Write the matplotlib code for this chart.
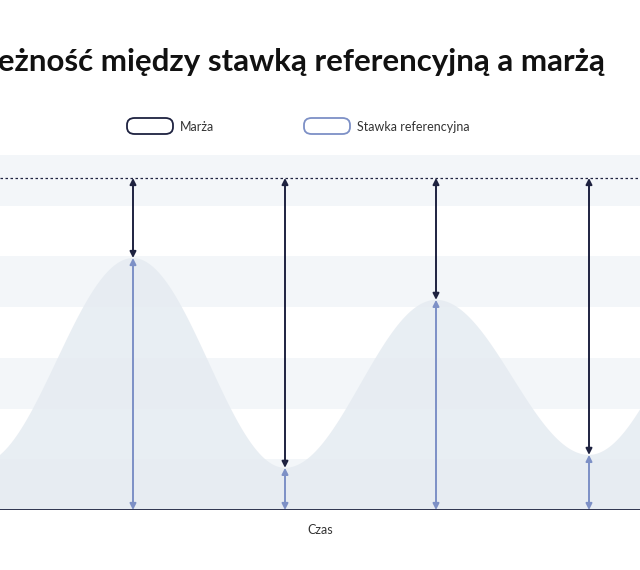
import numpy as np
import matplotlib.pyplot as plt
from matplotlib.patches import FancyBboxPatch

# extrema of the reference-rate wave (x in px-ish units, y in % of cap)
wave_x = [-20, 133, 285, 436, 589, 740]
wave_y = [14, 75.9, 12.7, 63.3, 16.6, 70]
arrow_x = [133, 285, 436, 589]
cap = 100

dark = '#1e2240'
blue = '#7d90c6'
band = '#f3f6f9'
fill = '#e5ebf1'

# smooth curve between the read extrema (cosine easing)
xs, ys = [], []
for i in range(len(wave_x) - 1):
    t = np.linspace(0, 1, 60)
    e = (1 - np.cos(np.pi * t)) / 2
    xs.extend(wave_x[i] + (wave_x[i+1] - wave_x[i]) * t)
    ys.extend(wave_y[i] + (wave_y[i+1] - wave_y[i]) * e)
xs = np.array(xs); ys = np.array(ys)

fig = plt.figure(figsize=(6.4, 5.7), dpi=100)
ax = fig.add_axes([0, 60/570, 1, 355/570])
ax.set_xlim(0, 640)
ytop = 355/332*100
ax.set_ylim(0, ytop)

step = ytop / 7
for k in range(7):
    if k % 2 == 0:
        ax.axhspan(k*step, (k+1)*step, color=band, lw=0, zorder=0)
ax.fill_between(xs, 0, ys, color=fill, lw=0, alpha=0.85, zorder=1)
ax.axhline(cap, color=dark, ls=(0, (2, 2)), lw=0.9, zorder=2)
ax.axhline(0, color=dark, lw=2, zorder=4)

for x in arrow_x:
    v = np.interp(x, xs, ys)
    ax.annotate('', xy=(x, v), xytext=(x, cap),
                arrowprops=dict(arrowstyle='<|-|>', color=dark, lw=1.4,
                                mutation_scale=9, shrinkA=0, shrinkB=0), zorder=3)
    ax.annotate('', xy=(x, 0), xytext=(x, v),
                arrowprops=dict(arrowstyle='<|-|>', color=blue, lw=1.4,
                                mutation_scale=9, shrinkA=0, shrinkB=0), zorder=3)

for s in ax.spines.values():
    s.set_visible(False)
ax.set_xticks([]); ax.set_yticks([])

fig.text(605/640, 1 - 62/570, 'Zależność między stawką referencyjną a marżą',
         ha='right', va='center', fontsize=22.5, fontweight='bold',
         family='Lato', color='#111111')
fig.text(320/640, 1 - 530/570, 'Czas', ha='center', va='center',
         fontsize=9, family='Lato', color='#333333')

for x0, col, label in [(127, dark, 'Marża'), (304, blue, 'Stawka referencyjna')]:
    p = FancyBboxPatch((x0/640, 1 - 134/570), 46/640, 16/570,
                       boxstyle='round,pad=0,rounding_size=0.012',
                       transform=fig.transFigure, fill=False, ec=col, lw=1.3)
    fig.patches.append(p)
    fig.text((x0 + 53)/640, 1 - 127/570, label, ha='left', va='center',
             fontsize=9, family='Lato', color='#333333')

fig.savefig('out.png', dpi=100)
